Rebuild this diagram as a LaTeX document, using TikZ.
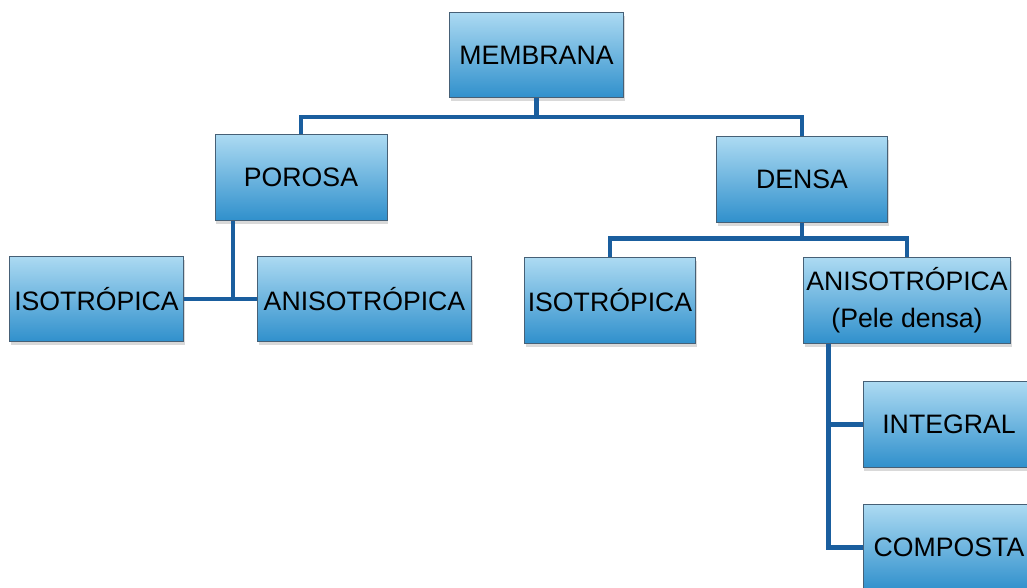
\documentclass[tikz,border=0pt]{standalone}
\usepackage{fontspec}
\setmainfont{Liberation Sans}
\usepackage{tikz}
\usetikzlibrary{shadows}

\definecolor{boxtop}{RGB}{172,218,242}
\definecolor{boxbot}{RGB}{48,144,204}
\definecolor{boxline}{RGB}{70,96,118}
\definecolor{linkblue}{RGB}{26,94,158}

\begin{document}
\begin{tikzpicture}[x=0.75pt,y=0.75pt,yscale=-1,xscale=1,
  box/.style={draw=boxline,line width=0.6pt,top color=boxtop,bottom color=boxbot,
    minimum height=64pt,inner sep=0pt,align=center,text=black,
    font=\fontsize{20}{27.5}\selectfont,
    drop shadow={opacity=0.3,shadow xshift=1pt,shadow yshift=-2.5pt}},
  link/.style={draw=linkblue,line width=3.6pt}]
\path[use as bounding box,clip] (0,0) rectangle (1027,588);

% Text Node
\node[box,minimum width=130pt] (membrana) at (536.5,55) {MEMBRANA};
% Text Node
\node[box,minimum width=129pt] (porosa) at (301,177.5) {POROSA};
% Text Node
\node[box,minimum width=128pt] (densa) at (802,179.5) {DENSA};
% Text Node
\node[box,minimum width=130pt] (pisotropica) at (96.5,299) {ISOTRÓPICA};
% Text Node
\node[box,minimum width=161pt] (panisotropica) at (364.5,299) {ANISOTRÓPICA};
% Text Node
\node[box,minimum width=128pt] (disotropica) at (610,300.5) {ISOTRÓPICA};
% Text Node
\node[box,minimum width=155pt] (danisotropica) at (907,300.5) {ANISOTRÓPICA\\(Pele densa)};
% Text Node
\node[box,minimum width=129pt] (integral) at (949,424.5) {INTEGRAL};
% Text Node
\node[box,minimum width=129pt] (composta) at (949,547.5) {COMPOSTA};

%Straight Lines
\draw[link] (membrana.south) -- ++(0,19) coordinate (jmembrana);
\draw[link] (porosa.north) |- (jmembrana) -| (densa.north);
%Straight Lines
\draw[link] (pisotropica.east) -- (panisotropica.west);
\draw[link] ([xshift=-51pt]porosa.south) -- ([xshift=-51pt]porosa.south |- pisotropica.east);
%Straight Lines
\draw[link] (densa.south) -- ++(0,16) coordinate (jdensa);
\draw[link] (disotropica.north) |- (jdensa) -| (danisotropica.north);
%Straight Lines
\draw[link] ([xshift=-59pt]danisotropica.south) |- (composta.west);
\draw[link] ([xshift=-59pt]danisotropica.south |- integral.west) -- (integral.west);

\end{tikzpicture}
\end{document}
